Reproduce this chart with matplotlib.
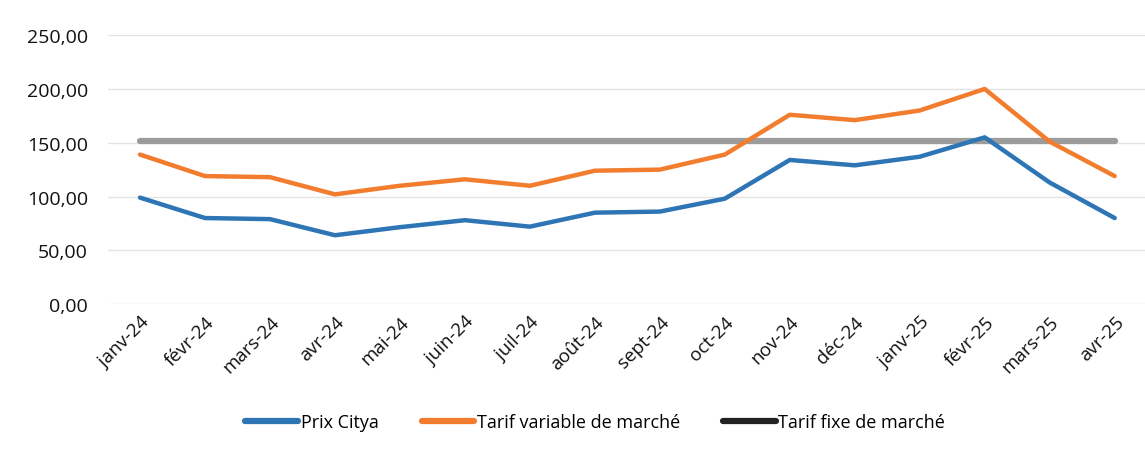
import numpy as np
import matplotlib.pyplot as plt
from matplotlib.lines import Line2D

plt.rcParams['font.family'] = ['Open Sans', 'DejaVu Sans']

months = ["janv-24", "févr-24", "mars-24", "avr-24", "mai-24", "juin-24",
          "juil-24", "août-24", "sept-24", "oct-24", "nov-24", "déc-24",
          "janv-25", "févr-25", "mars-25", "avr-25"]
prix_citya = [99, 80, 79, 64, 71.5, 78, 72, 85, 86, 98, 134, 129, 137, 155, 113, 80]
tarif_variable = [139, 119, 118, 102, 110, 116, 110, 124, 125, 139, 176, 171, 180, 200, 151, 119]
tarif_fixe = [152] * 16

BLUE = "#2E75B6"
ORANGE = "#F37D2F"
GREY = "#9C9C9C"

fig = plt.figure(figsize=(11.45, 4.52), dpi=100)
ax = fig.add_axes([0.0939, 0.325, 0.908, 0.595])

x = np.arange(len(months))
ax.plot(x, tarif_fixe, color=GREY, lw=4.5, solid_capstyle="round", zorder=2,
        label="Tarif fixe de marché")
ax.plot(x, tarif_variable, color=ORANGE, lw=3.2, solid_capstyle="round", zorder=3,
        label="Tarif variable de marché")
ax.plot(x, prix_citya, color=BLUE, lw=3.2, solid_capstyle="round", zorder=4,
        label="Prix Citya")

ax.set_xlim(-0.5, len(months) - 0.5)
ax.set_ylim(0, 250)
ax.set_yticks(np.arange(0, 251, 50))
ax.set_yticklabels([f"{v:.2f}".replace(".", ",") for v in np.arange(0, 251, 50)],
                   fontsize=14, color="#111111", fontweight="medium")
ax.set_xticks(x)
ax.set_xticklabels(months, rotation=45, ha="right", rotation_mode="anchor",
                   fontsize=13.5, color="#111111")
ax.tick_params(length=0, axis="y", pad=14)
ax.tick_params(length=0, axis="x", pad=6)
ax.grid(axis="y", color="#E4E4E4", lw=1)
ax.set_axisbelow(True)
for s in ax.spines.values():
    s.set_visible(False)

handles = [Line2D([], [], color=BLUE, lw=4.5, solid_capstyle="round"),
           Line2D([], [], color=ORANGE, lw=4.5, solid_capstyle="round"),
           Line2D([], [], color="#222222", lw=4.5, solid_capstyle="round")]
fig.legend(handles, ["Prix Citya", "Tarif variable de marché", "Tarif fixe de marché"],
           loc="center", bbox_to_anchor=(0.52, 0.064), ncol=3, frameon=False,
           fontsize=13, handlelength=2.9, handletextpad=0.15, columnspacing=2.4)

fig.savefig("out.png", dpi=100)
